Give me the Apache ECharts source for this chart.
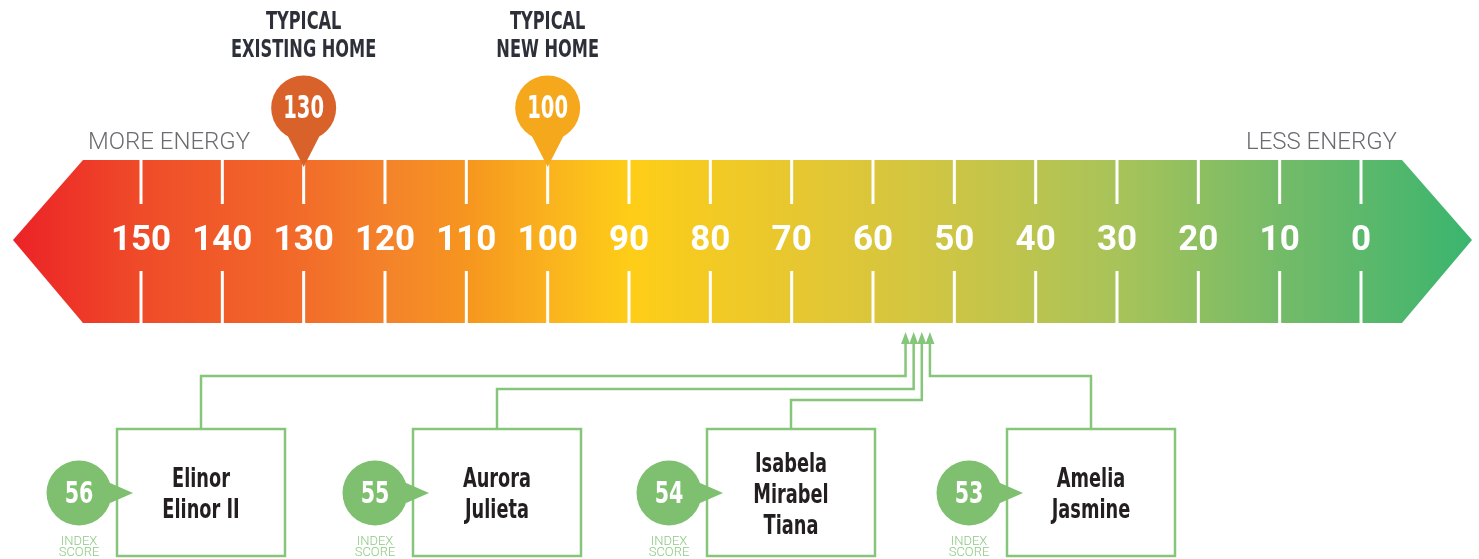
<!DOCTYPE html>
<html>
<head>
<meta charset="utf-8">
<style>
  html, body { margin: 0; padding: 0; background: #fff; }
  #chart { width: 1479px; height: 559px; }
</style>
<script src="https://cdn.jsdelivr.net/npm/echarts@6/dist/echarts.min.js"></script>
</head>
<body>
<div id="chart"></div>
<script>
// Scale printed on the band (150 on the left, 0 on the right)
const scaleMin = 0;
const scaleMax = 150;
const scaleStep = 10;
const tickValues = [150, 140, 130, 120, 110, 100, 90, 80, 70, 60, 50, 40, 30, 20, 10, 0];
const scaleEnds = ['MORE ENERGY', 'LESS ENERGY'];

// Reference homes, shown as pins above the band
const pinValues = [130, 100];
const pinTitles = ['TYPICAL\nEXISTING HOME', 'TYPICAL\nNEW HOME'];

// Index scores of the homes below the band
const homeScores = [56, 55, 54, 53];
const homeNames = ['Elinor\nElinor II', 'Aurora\nJulieta', 'Isabela\nMirabel\nTiana', 'Amelia\nJasmine'];
const scoreCaption = 'INDEX\nSCORE';

// Layout, in pixels
const bandTop = 160;
const bandBottom = 323;
const bandMid = 240;
const labelLine = 241;
const boxLeft = [117, 413, 707, 1007];
const boxWidth = 168;
const boxTop = 429;
const boxHeight = 127;
const elbowY = [376, 389, 400, 376];

// No narrow face installed, so condensed text is squeezed with scaleX
const narrow = "'Liberation Sans Narrow', 'DejaVu Sans Condensed', sans-serif";
const pinColors = ['#d9622b', '#f6a81d'];
const lineGreen = '#86c67a';
const circleGreen = '#7fc070';

const chart = echarts.init(document.getElementById('chart'));

function xOf(api, v) {
  return api.coord([v, 0])[0];
}

function renderBand(params, api) {
  const left = xOf(api, api.value(0));
  const right = xOf(api, api.value(1));
  const pts = [
    [left - 128, bandMid], [left - 58, bandTop], [right + 41, bandTop],
    [right + 111, bandMid], [right + 41, bandBottom], [left - 58, bandBottom]
  ];
  return {
    type: 'polygon',
    shape: { points: pts },
    style: {
      fill: new echarts.graphic.LinearGradient(0, 0, 1, 0, [
        { offset: 0, color: '#ec2227' },
        { offset: 0.087, color: '#ef4b29' },
        { offset: 0.197, color: '#f26b29' },
        { offset: 0.26, color: '#f4842a' },
        { offset: 0.31, color: '#f6951f' },
        { offset: 0.368, color: '#fab31e' },
        { offset: 0.423, color: '#fecd17' },
        { offset: 0.54, color: '#e6c731' },
        { offset: 0.642, color: '#cdc545' },
        { offset: 0.757, color: '#a8c359' },
        { offset: 0.868, color: '#74bb68' },
        { offset: 0.925, color: '#5cb86b' },
        { offset: 1, color: '#3ab56e' }
      ])
    }
  };
}

function renderTick(params, api) {
  const x = xOf(api, api.value(0));
  const style = { stroke: '#fff', lineWidth: 3 };
  return {
    type: 'group',
    children: [
      { type: 'line', shape: { x1: x, y1: bandTop, x2: x, y2: 204 }, style: style },
      { type: 'line', shape: { x1: x, y1: 271, x2: x, y2: bandBottom }, style: style }
    ]
  };
}

function renderPin(params, api) {
  const i = params.dataIndex;
  const v = api.value(0);
  const x = xOf(api, v);
  return {
    type: 'group',
    children: [
      { type: 'polygon', shape: { points: [[x - 22, 124], [x + 22, 124], [x, 167]] }, style: { fill: pinColors[i] } },
      { type: 'circle', shape: { cx: x, cy: 108, r: 32.5 }, style: { fill: pinColors[i] } },
      {
        type: 'text', x: x, y: 110, scaleX: 0.68,
        style: { text: String(v), fill: '#fff', font: 'bold 32px ' + narrow, align: 'center', verticalAlign: 'middle' }
      },
      {
        type: 'text', x: x, y: 37, scaleX: 0.75,
        style: {
          text: pinTitles[i], fill: '#2e3039', font: 'bold 24px ' + narrow,
          lineHeight: 28, align: 'center', verticalAlign: 'middle'
        }
      }
    ]
  };
}

function renderHome(params, api) {
  const i = params.dataIndex;
  const v = api.value(0);
  const x = xOf(api, v);
  const left = boxLeft[i];
  const cx = left + boxWidth / 2;
  const cy = 493;
  return {
    type: 'group',
    children: [
      {
        type: 'polyline',
        shape: { points: [[x, 342], [x, elbowY[i]], [cx, elbowY[i]], [cx, boxTop]] },
        style: { stroke: lineGreen, lineWidth: 2.5, fill: null }
      },
      { type: 'polygon', shape: { points: [[x, 332], [x - 4.5, 344], [x + 4.5, 344]] }, style: { fill: lineGreen } },
      {
        type: 'rect',
        shape: { x: left, y: boxTop, width: boxWidth, height: boxHeight },
        style: { fill: '#fff', stroke: lineGreen, lineWidth: 2.5 }
      },
      { type: 'polygon', shape: { points: [[left - 16, 479], [left - 16, 507], [left + 16, cy]] }, style: { fill: circleGreen } },
      { type: 'circle', shape: { cx: left - 38, cy: cy, r: 32.5 }, style: { fill: circleGreen } },
      {
        type: 'text', x: left - 38, y: cy + 2, scaleX: 0.74,
        style: { text: String(v), fill: '#fff', font: 'bold 31px ' + narrow, align: 'center', verticalAlign: 'middle' }
      },
      {
        type: 'text', x: left - 38, y: 547,
        style: {
          text: scoreCaption, fill: '#8cc982', font: '300 13px Roboto',
          lineHeight: 10.5, align: 'center', verticalAlign: 'middle'
        }
      },
      {
        type: 'text', x: cx, y: cy + 3, scaleX: 0.76,
        style: {
          text: homeNames[i], fill: '#231f20', font: 'bold 26px ' + narrow,
          lineHeight: 31, align: 'center', verticalAlign: 'middle'
        }
      }
    ]
  };
}

chart.setOption({
  animation: false,
  grid: { left: 141, right: 118, top: bandTop, bottom: 559 - labelLine },
  xAxis: {
    type: 'value',
    inverse: true,
    min: scaleMin,
    max: scaleMax,
    interval: scaleStep,
    z: 5,
    axisLine: { show: false },
    axisTick: { show: false },
    splitLine: { show: false },
    axisLabel: {
      margin: 0,
      verticalAlign: 'middle',
      color: '#fff',
      fontSize: 35,
      fontWeight: 'bold',
      fontFamily: 'Roboto'
    }
  },
  yAxis: { type: 'value', min: 0, max: 1, show: false },
  graphic: [
    {
      type: 'text', left: 88, top: 131,
      style: { text: scaleEnds[0], fill: '#6b6c70', font: '300 24px Roboto' }
    },
    {
      type: 'text', right: 1479 - 1397, top: 131,
      style: { text: scaleEnds[1], fill: '#6b6c70', font: '300 24px Roboto' }
    }
  ],
  series: [
    { type: 'custom', z: 1, renderItem: renderBand, data: [[scaleMax, scaleMin]] },
    { type: 'custom', z: 2, renderItem: renderTick, data: tickValues.map(v => [v]) },
    { type: 'custom', z: 3, renderItem: renderPin, data: pinValues.map(v => [v]) },
    { type: 'custom', z: 3, renderItem: renderHome, data: homeScores.map(v => [v]) }
  ]
});
</script>
</body>
</html>
